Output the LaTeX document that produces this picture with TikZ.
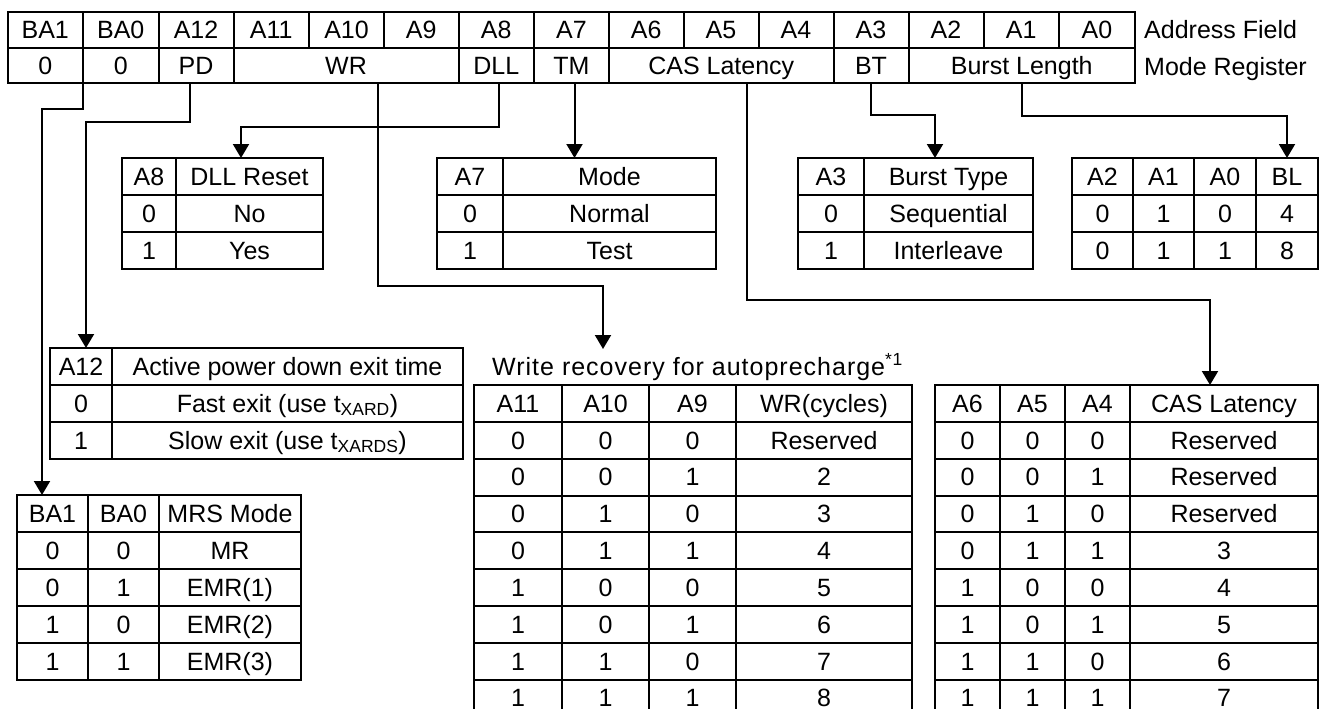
\documentclass[tikz,border=0pt]{standalone}
\usepackage{fontspec}
\setmainfont{Liberation Sans}
\usetikzlibrary{arrows.meta}
\tikzset{
  cellbox/.style={draw, line width=2pt, inner sep=0pt, outer sep=0pt, anchor=north west, text height=17.5pt, text depth=0pt, font=\fontsize{25}{30}\selectfont},
  arr/.style={line width=2pt, -{Triangle[width=16pt,length=14pt]}},
  lbl/.style={inner sep=0pt, font=\fontsize{25}{30}\selectfont},
}
\newcommand\cel[6]{\node[cellbox, minimum width={(#4-#2)*1pt}, minimum height={(#5-#3)*1pt}] (#1) at (#2,#3) {#6};}
\begin{document}
\begin{tikzpicture}[x=1pt,y=-1pt]
\useasboundingbox (0,0) rectangle (1320,709);
\clip (0,0) rectangle (1320,709);
% ---- top register table ----
\foreach \n/\a/\b/\t in {ba1/7.5/83/BA1, ba0/83/158.5/BA0, a12/158.5/233.5/A12, a11/233.5/309/A11, a10/309/384/A10, a9/384/458.5/A9, a8/458.5/534/A8, a7/534/609/A7, a6/609/683.5/A6, a5/683.5/758.5/A5, a4/758.5/833.5/A4, a3/833.5/908.5/A3, a2/908.5/983.5/A2, a1/983.5/1059/A1, a0/1059/1135/A0}
  {\cel{\n}{\a}{12.5}{\b}{48}{\t}}
\foreach \n/\a/\b/\t in {z1/7.5/83/0, z0/83/158.5/0, pd/158.5/233.5/PD, wr/233.5/458.5/WR, dll/458.5/534/DLL, tm/534/609/TM, cas/609/833.5/CAS Latency, bt/833.5/908.5/BT, bl/908.5/1135/Burst Length}
  {\cel{\n}{\a}{48}{\b}{83.5}{\t}}
\node[lbl, anchor=base west] (af) at (1144,39) {Address Field};
\node[lbl, anchor=base west] (mr) at (1144,75) {Mode Register};
% ---- DLL table ----
\cel{dllA}{122}{158}{176}{195}{A8}\cel{dllh}{176}{158}{323}{195}{DLL Reset}
\cel{dll0}{122}{195}{176}{232}{0}\cel{dllno}{176}{195}{323}{232}{No}
\cel{dll1}{122}{232}{176}{269}{1}\cel{dllyes}{176}{232}{323}{269}{Yes}
% ---- Mode table ----
\cel{modeA}{437}{158}{503}{195}{A7}\cel{modeh}{503}{158}{716}{195}{Mode}
\cel{mode0}{437}{195}{503}{232}{0}\cel{modeN}{503}{195}{716}{232}{Normal}
\cel{mode1}{437}{232}{503}{269}{1}\cel{modeT}{503}{232}{716}{269}{Test}
% ---- Burst type ----
\cel{btA}{798}{158}{864}{195}{A3}\cel{bth}{864}{158}{1033}{195}{Burst Type}
\cel{bt0}{798}{195}{864}{232}{0}\cel{btS}{864}{195}{1033}{232}{Sequential}
\cel{bt1}{798}{232}{864}{269}{1}\cel{btI}{864}{232}{1033}{269}{Interleave}
% ---- Burst length ----
\cel{blA2}{1072}{158}{1133}{195}{A2}\cel{blA1}{1133}{158}{1194}{195}{A1}\cel{blA0}{1194}{158}{1256}{195}{A0}\cel{blh}{1256}{158}{1318}{195}{BL}
\cel{blr1a}{1072}{195}{1133}{232}{0}\cel{blr1b}{1133}{195}{1194}{232}{1}\cel{blr1c}{1194}{195}{1256}{232}{0}\cel{blr1d}{1256}{195}{1318}{232}{4}
\cel{blr2a}{1072}{232}{1133}{269}{0}\cel{blr2b}{1133}{232}{1194}{269}{1}\cel{blr2c}{1194}{232}{1256}{269}{1}\cel{blr2d}{1256}{232}{1318}{269}{8}
% ---- A12 table ----
\cel{a12A}{50}{348}{112}{385}{A12}\cel{a12h}{112}{348}{463}{385}{Active power down exit time}
\cel{a120}{50}{385}{112}{422}{0}\cel{a12f}{112}{385}{463}{422}{Fast exit (use t\textsubscript{XARD})}
\cel{a121}{50}{422}{112}{459}{1}\cel{a12s}{112}{422}{463}{459}{Slow exit (use t\textsubscript{XARDS})}
% ---- WR table ----
\node[lbl, anchor=base west] (wrt) at (492,375) {\addfontfeatures{LetterSpace=4}Write recovery for autoprecharge\textsuperscript{*1}};
\cel{wrA11}{474}{385}{562}{421.9}{A11}\cel{wrA10}{562}{385}{649}{421.9}{A10}\cel{wrA9}{649}{385}{736}{421.9}{A9}\cel{wrh}{736}{385}{912}{421.9}{WR(cycles)}
% ---- CAS table ----
\cel{casA6}{935}{385}{1000}{421.9}{A6}\cel{casA5}{1000}{385}{1065}{421.9}{A5}\cel{casA4}{1065}{385}{1130}{421.9}{A4}\cel{cash}{1130}{385}{1318}{421.9}{CAS Latency}
\foreach \a/\b/\c/\w/\l [count=\i] in {0/0/0/Reserved/Reserved, 0/0/1/2/Reserved, 0/1/0/3/Reserved, 0/1/1/4/3, 1/0/0/5/4, 1/0/1/6/5, 1/1/0/7/6, 1/1/1/8/7}{
  \pgfmathsetmacro\ya{385+36.85*\i}
  \pgfmathsetmacro\yb{\ya+36.85}
  \cel{wra\i}{474}{\ya}{562}{\yb}{\a}\cel{wrb\i}{562}{\ya}{649}{\yb}{\b}\cel{wrc\i}{649}{\ya}{736}{\yb}{\c}\cel{wrd\i}{736}{\ya}{912}{\yb}{\w}
  \cel{casa\i}{935}{\ya}{1000}{\yb}{\a}\cel{casb\i}{1000}{\ya}{1065}{\yb}{\b}\cel{casc\i}{1065}{\ya}{1130}{\yb}{\c}\cel{casd\i}{1130}{\ya}{1318}{\yb}{\l}
}
% ---- MRS table ----
\cel{mrsA}{17}{495}{88}{532}{BA1}\cel{mrsB}{88}{495}{159}{532}{BA0}\cel{mrsh}{159}{495}{301}{532}{MRS Mode}
\foreach \a/\b/\m [count=\i] in {0/0/MR, 0/1/EMR(1), 1/0/EMR(2), 1/1/EMR(3)}{
  \pgfmathsetmacro\ya{495+37*\i}
  \pgfmathsetmacro\yb{\ya+37}
  \cel{mrsa\i}{17}{\ya}{88}{\yb}{\a}\cel{mrsb\i}{88}{\ya}{159}{\yb}{\b}\cel{mrsc\i}{159}{\ya}{301}{\yb}{\m}
}
% ---- connectors ----
\coordinate (wrin) at (603,349);
\draw[arr] (z1.south east) -- ++(0,25.5) -| ([xshift=-10.5pt]mrsA.north);
\draw[arr] ([xshift=-6pt]pd.south) -- ++(0,38.5) -| ([xshift=5pt]a12A.north);
\draw[arr] ([xshift=3pt]dll.south) -- ++(0,43.5) -| ([xshift=-8.5pt]dllh.north);
\draw[arr] ([xshift=3pt]tm.south) -- ([xshift=3pt]tm.south |- modeh.north);
\draw[arr] ([xshift=32pt]wr.south) -- ++(0,202.5) -| (wrin);
\draw[arr] ([xshift=26pt]cas.south) -- ++(0,216.5) -| ([xshift=-14pt]cash.north);
\draw[arr] (bt.south) -- ++(0,31.5) -| ([xshift=-13.5pt]bth.north);
\draw[arr] (bl.south) -- ++(0,32.5) -| (blh.north);
\end{tikzpicture}
\end{document}
